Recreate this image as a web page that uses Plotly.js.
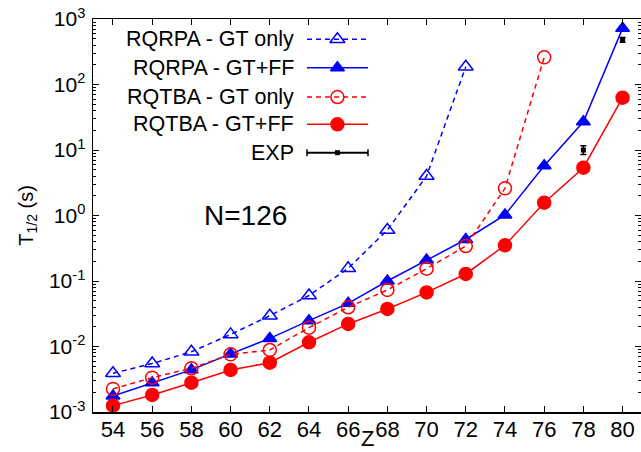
<!DOCTYPE html>
<html>
<head>
<meta charset="utf-8">
<script src="https://cdn.plot.ly/plotly-3.0.1.min.js"></script>
<style>html,body{margin:0;padding:0;background:#fff;}#chart{width:641px;height:452px;}</style>
</head>
<body>
<div id="chart"></div>
<script>
// ---- data ----
const zAll = [54, 56, 58, 60, 62, 64, 66, 68, 70, 72, 74, 76, 78, 80];
const zRqrpaGT = [54, 56, 58, 60, 62, 64, 66, 68, 70, 72];
const rqrpaGT = [0.0039, 0.0055, 0.0083, 0.0153, 0.0295, 0.060, 0.156, 0.60, 4.0, 187];
const rqrpaFF = [0.00175, 0.0028, 0.0044, 0.0077, 0.0133, 0.0248, 0.0456, 0.100, 0.209, 0.43, 1.02, 5.75, 27, 720];
const zRqtbaGT = [54, 56, 58, 60, 62, 64, 66, 68, 70, 72, 74, 76];
const rqtbaGT = [0.00225, 0.00334, 0.00465, 0.0076, 0.00885, 0.0194, 0.0397, 0.073, 0.154, 0.342, 2.6, 260];
const rqtbaFF = [0.00125, 0.00182, 0.0028, 0.00438, 0.00566, 0.0116, 0.0221, 0.0374, 0.067, 0.128, 0.351, 1.57, 5.37, 63];
const zExp = [78, 80];
const expVal = [10.0, 480];
const expErrPlus = [1.6, 40];
const expErrMinus = [1.5, 40];

const seriesNames = ["RQRPA - GT only", "RQRPA - GT+FF", "RQTBA - GT only", "RQTBA - GT+FF", "EXP"];
const xTickVals = [54, 56, 58, 60, 62, 64, 66, 68, 70, 72, 74, 76, 78, 80];
const yTickVals = [0.001, 0.01, 0.1, 1, 10, 100, 1000];
const yTickText = ["10<sup>-3</sup>", "10<sup>-2</sup>", "10<sup>-1</sup>", "10<sup>0</sup>", "10<sup>1</sup>", "10<sup>2</sup>", "10<sup>3</sup>"];

const BLUE = "#0000ff", RED = "#ff0000", BLACK = "#000000";
const FONT = "Liberation Sans, Arial, sans-serif";

// style per series
const styles = [
  {color: BLUE, dash: "5px,4px", symbol: "triangle-up-open", size: 13},
  {color: BLUE, dash: "solid", symbol: "triangle-up", size: 12},
  {color: RED, dash: "5px,4px", symbol: "circle-open", size: 13},
  {color: RED, dash: "solid", symbol: "circle", size: 13}
];
const xs = [zRqrpaGT, zAll, zRqtbaGT, zAll];
const ys = [rqrpaGT, rqrpaFF, rqtbaGT, rqtbaFF];

const traces = [];
for (let i = 0; i < 4; i++) {
  traces.push({
    x: xs[i], y: ys[i], type: "scatter", mode: "lines+markers", name: seriesNames[i],
    line: {color: styles[i].color, width: 1.5, dash: styles[i].dash},
    marker: {symbol: styles[i].symbol, size: styles[i].size, color: styles[i].color,
             line: {color: styles[i].color, width: 1.5}},
    showlegend: false, cliponaxis: false
  });
}
traces.push({
  x: zExp, y: expVal, type: "scatter", mode: "markers", name: seriesNames[4],
  marker: {symbol: "square", size: 5, color: BLACK},
  error_y: {type: "data", symmetric: false, array: expErrPlus, arrayminus: expErrMinus,
            color: BLACK, thickness: 1.5, width: 3},
  showlegend: false
});

// ---- custom gnuplot-style key (samples on an overlay 0..1 axis) ----
const keyRows = [0.9483, 0.8761, 0.8015, 0.7321, 0.6598];
const keyX0 = 0.3905, keyX1 = 0.5018, keyXm = 0.446, keyTextX = 0.3704;
for (let i = 0; i < 4; i++) {
  traces.push({
    x: [keyX0, keyX1], y: [keyRows[i], keyRows[i]], xaxis: "x2", yaxis: "y2",
    type: "scatter", mode: "lines", line: {color: styles[i].color, width: 1.5, dash: styles[i].dash},
    showlegend: false, hoverinfo: "skip"
  });
  traces.push({
    x: [keyXm], y: [keyRows[i]], xaxis: "x2", yaxis: "y2", type: "scatter", mode: "markers",
    marker: {symbol: styles[i].symbol, size: styles[i].size, color: styles[i].color,
             line: {color: styles[i].color, width: 1.5}},
    showlegend: false, hoverinfo: "skip"
  });
}
traces.push({
  x: [keyX0, keyX1], y: [keyRows[4], keyRows[4]], xaxis: "x2", yaxis: "y2",
  type: "scatter", mode: "lines", line: {color: BLACK, width: 2}, showlegend: false, hoverinfo: "skip"
});
traces.push({
  x: [keyXm], y: [keyRows[4]], xaxis: "x2", yaxis: "y2", type: "scatter", mode: "markers",
  marker: {symbol: "square", size: 5, color: BLACK}, showlegend: false, hoverinfo: "skip"
});

const shapes = [keyX0, keyX1].map(xv => ({
  type: "line", xref: "x2", yref: "y2", x0: xv, x1: xv, y0: keyRows[4] - 0.009, y1: keyRows[4] + 0.009,
  line: {color: BLACK, width: 1.5}
}));

const annotations = seriesNames.map((t, i) => ({
  text: t, xref: "paper", yref: "paper", x: keyTextX, y: keyRows[i], xanchor: "right", yanchor: "middle",
  showarrow: false, font: {family: FONT, size: 21.5, color: BLACK}
}));
annotations.push({
  text: "N=126", xref: "paper", yref: "paper", x: 0.2774, y: 0.5, xanchor: "center", yanchor: "middle",
  showarrow: false, font: {family: FONT, size: 28, color: BLACK}
});
annotations.push({
  text: "T<sub>1/2</sub> (s)", xref: "paper", yref: "paper", x: -0.12, y: 0.5, xanchor: "center", yanchor: "middle",
  textangle: -90, showarrow: false, font: {family: FONT, size: 20, color: BLACK}
});
annotations.push({
  text: "Z", xref: "paper", yref: "paper", x: 0.5, y: -0.1018, xanchor: "center", yanchor: "bottom",
  borderpad: 0, showarrow: false, font: {family: FONT, size: 22, color: BLACK}
});

const minorVals = [];
for (let e = -3; e < 3; e++) for (let m = 2; m <= 9; m++) minorVals.push(m * Math.pow(10, e));

const layout = {
  width: 641, height: 452,
  margin: {l: 93, r: 0, t: 19, b: 40},
  paper_bgcolor: "#fff", plot_bgcolor: "#fff",
  showlegend: false,
  font: {family: FONT, color: BLACK},
  xaxis: {
    range: [52.98, 80.94], tickmode: "array", tickvals: xTickVals,
    ticks: "inside", ticklen: 6, tickwidth: 1, tickcolor: BLACK,
    showline: true, linecolor: BLACK, linewidth: 1.5, mirror: "ticks",
    showgrid: false, zeroline: false, tickfont: {family: FONT, size: 22, color: BLACK},
    ticklabelstandoff: -3
  },
  yaxis: {
    type: "log", range: [-3, 3], tickmode: "array", tickvals: yTickVals, ticktext: yTickText,
    ticks: "inside", ticklen: 6, tickwidth: 1, tickcolor: BLACK,
    showline: true, linecolor: BLACK, linewidth: 1.5, mirror: "ticks",
    showgrid: false, zeroline: false, tickfont: {family: FONT, size: 21, color: BLACK},
    minor: {tickmode: "array", tickvals: minorVals, ticks: "inside", ticklen: 3, tickcolor: BLACK, showgrid: false},
    ticklabelstandoff: 2
  },
  xaxis2: {overlaying: "x", range: [0, 1], visible: false, anchor: "y2"},
  yaxis2: {overlaying: "y", range: [0, 1], visible: false, anchor: "x2"},
  shapes: shapes,
  annotations: annotations
};

Plotly.newPlot("chart", traces, layout, {staticPlot: true, displayModeBar: false});
</script>
</body>
</html>
